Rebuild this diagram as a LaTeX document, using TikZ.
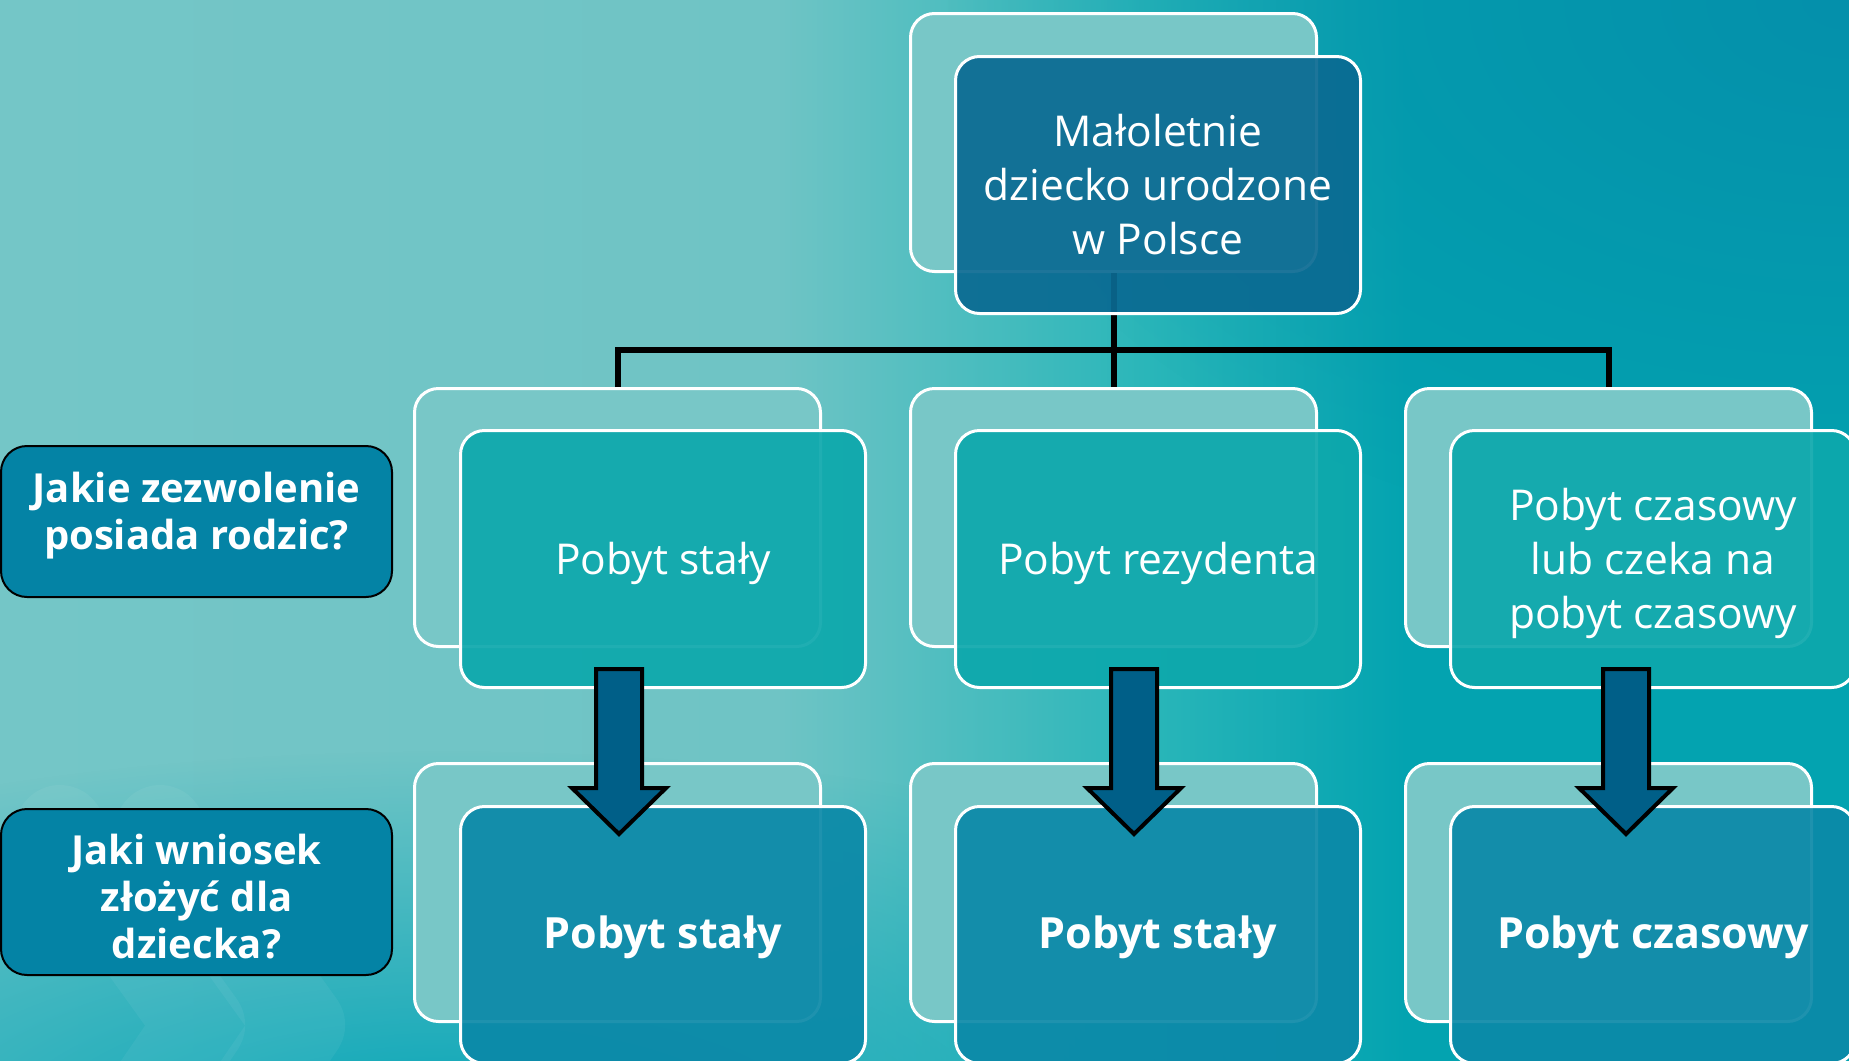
\documentclass[tikz,border=0pt]{standalone}
\usepackage{fontspec}
\setmainfont{Open Sans}
\usetikzlibrary{fadings}
\definecolor{bgA}{HTML}{74C6C7}
\definecolor{bgA2}{HTML}{6FC4C5}
\definecolor{bgB}{HTML}{2AB6B9}
\definecolor{bgC}{HTML}{03A3B0}
\definecolor{bgDark}{HTML}{0590AB}
\definecolor{bgLow}{HTML}{08A6B8}
\definecolor{backC}{HTML}{78C7C7}
\definecolor{topC}{HTML}{0A6A92}
\definecolor{midC}{HTML}{0DA8AC}
\definecolor{lowC}{HTML}{0B89A8}
\definecolor{labC}{HTML}{0483A5}
\definecolor{arrC}{HTML}{005F88}
\pgfdeclarehorizontalshading{bgshade}{100bp}{color(0bp)=(bgA); color(25bp)=(bgA); color(46bp)=(bgA2); color(56bp)=(bgB); color(63bp)=(bgC); color(75bp)=(bgC); color(100bp)=(bgC)}
\tikzfading[name=radfade, inner color=transparent!0, outer color=transparent!100]
\tikzset{
  backbox/.style={draw=white, line width=3pt, fill=backC, rounded corners=24pt,
    minimum width=406pt, minimum height=258pt, inner sep=0pt, anchor=north west},
  frontbox/.style={draw=white, line width=3pt, rounded corners=24pt,
    minimum width=405pt, minimum height=257pt, inner sep=0pt, anchor=north west,
    fill opacity=0.92},
  txt/.style={text=white, align=center, inner sep=0pt, font=\fontsize{42.5}{54}\selectfont},
  boldtxt/.style={txt, font=\bfseries\fontsize{43}{54}\selectfont},
  labelbox/.style={draw=black, line width=2pt, fill=labC, rounded corners=26pt,
    minimum width=391pt, inner sep=0pt},
  labeltxt/.style={text=white, align=center, inner sep=0pt,
    font=\bfseries\fontsize{40}{47}\selectfont},
  conn/.style={draw=black, line width=6pt},
  blockarrow/.style={draw=black, line width=4pt, fill=arrC, line join=miter},
  chev/.style={draw=white, draw opacity=0.05, line width=90pt, line cap=round, line join=round}
}
\begin{document}
\begin{tikzpicture}[x=1pt, y=-1pt]
\useasboundingbox (0,0) rectangle (1849,1060);
\clip (0,0) rectangle (1849,1060);
% background
\shade[shading=bgshade] (0,0) rectangle (1849,1060);
\fill[bgDark, path fading=radfade] (1849,0) ellipse [x radius=900pt, y radius=560pt];
\fill[bgLow, path fading=radfade] (450,1130) ellipse [x radius=1100pt, y radius=380pt];
\draw[chev] (60,830) -- (200,1025) -- (60,1230);
\draw[chev] (160,830) -- (300,1025) -- (160,1230);

% back boxes
\node[backbox] (tb) at (909,12) {};
\node[backbox] (b1) at (413,387) {};
\node[backbox] (b2) at (909,387) {};
\node[backbox] (b3) at (1404,387) {};
\node[backbox] (c1) at (413,762) {};
\node[backbox] (c2) at (909,762) {};
\node[backbox] (c3) at (1404,762) {};

% connectors
\coordinate (hub) at (1112,350);
\draw[conn] (tb.south) -- (b2.north);
\draw[conn] (b1.north) -- (b1.north |- hub) -- (b3.north |- hub) -- (b3.north);

% front boxes
\node[frontbox, fill=topC] (tf) at (954,55) {};
\node[frontbox, fill=midC] (m1) at (459,429) {};
\node[frontbox, fill=midC] (m2) at (954,429) {};
\node[frontbox, fill=midC] (m3) at (1449,429) {};
\node[frontbox, fill=lowC] (l1) at (459,805) {};
\node[frontbox, fill=lowC] (l2) at (954,805) {};
\node[frontbox, fill=lowC] (l3) at (1449,805) {};

% texts
\node[txt] (tft) at (tf.center) {Małoletnie\\dziecko urodzone\\w Polsce};
\node[txt] (m1t) at ([yshift=-4pt]m1.center) {Pobyt stały};
\node[txt] (m2t) at ([yshift=-4pt]m2.center) {Pobyt rezydenta};
\node[txt] (m3t) at ([yshift=-4pt]m3.center) {Pobyt czasowy\\lub czeka na\\pobyt czasowy};
\node[boldtxt] (l1t) at ([yshift=-2.5pt]l1.center) {Pobyt stały};
\node[boldtxt] (l2t) at ([yshift=-2.5pt]l2.center) {Pobyt stały};
\node[boldtxt] (l3t) at ([yshift=-2.5pt]l3.center) {Pobyt czasowy};

% left labels
\node[labelbox, minimum height=151pt] (q1) at (196.5,521.5) {};
\node[labelbox, minimum height=166pt] (q2) at (196.5,892) {};
\node[labeltxt] (q1t) at ([yshift=6pt]q1.center) {Jakie zezwolenie\\posiada rodzic?};
\node[labeltxt] (q2t) at ([yshift=-5pt]q2.center) {Jaki wniosek\\złożyć dla\\dziecka?};

% block arrows
\foreach \cx/\nm in {619/a1, 1134/a2, 1626/a3}{
  \coordinate (\nm) at (\cx,669);
  \draw[blockarrow, shift={(\nm)}] (-23,0) -- (23,0) -- (23,119) -- (47,119) -- (0,165) -- (-47,119) -- (-23,119) -- cycle;
}
\end{tikzpicture}
\end{document}
